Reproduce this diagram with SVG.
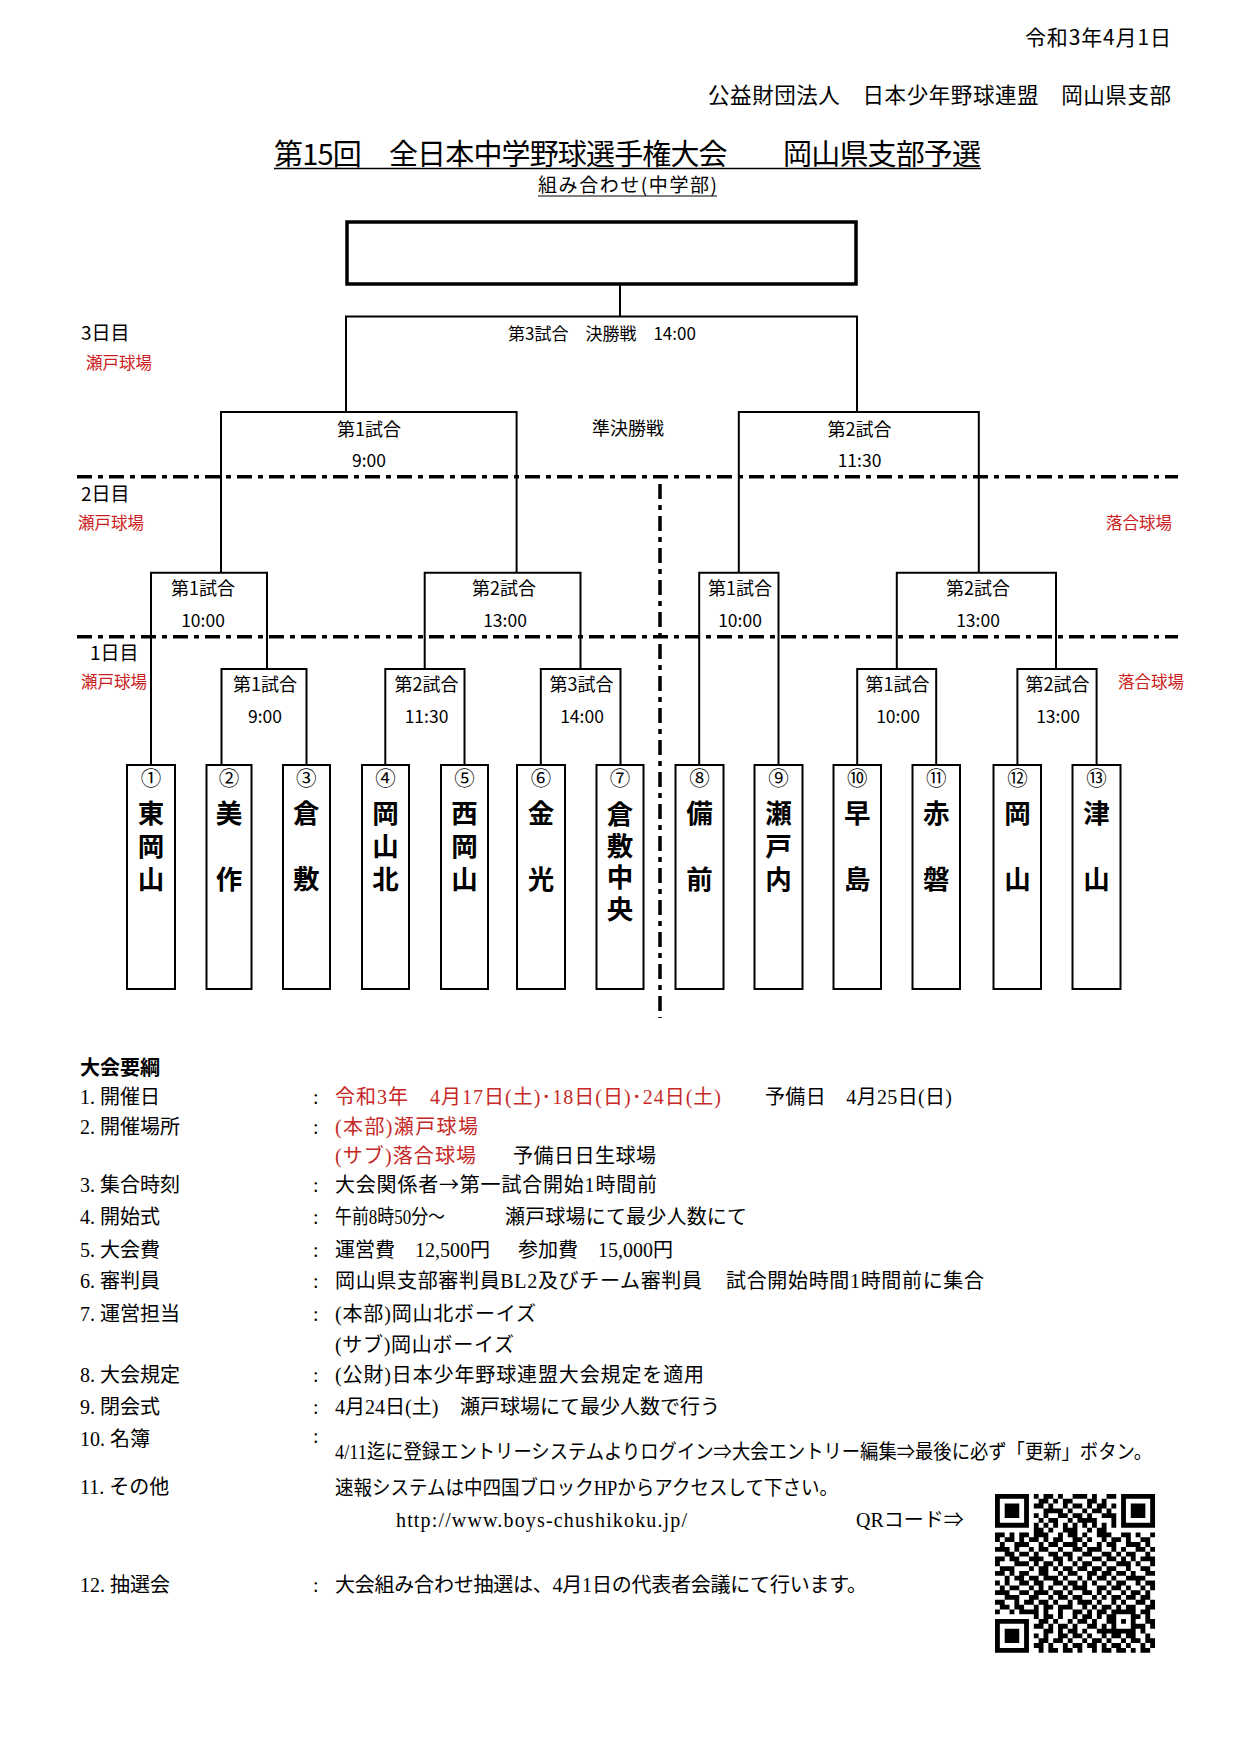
<svg xmlns="http://www.w3.org/2000/svg" width="1240" height="1754" viewBox="0 0 1240 1754">
<style>
text{font-family:"Noto Sans CJK JP","Noto Sans CJK SC",sans-serif;fill:#000}
.m{font-family:"Liberation Serif","Noto Sans CJK JP",serif;font-size:20px}
.cjk{font-family:"Noto Sans CJK JP",sans-serif}
.red{fill:#c62828}
.lbl{font-size:18px;text-anchor:middle}
.tm{font-size:17.5px;text-anchor:middle}
.day{font-size:19px}
.fld{font-size:16.5px;fill:#cc2020}
.br{fill:none;stroke:#000;stroke-width:2}
.dd{fill:none;stroke:#000;stroke-width:3.5;stroke-dasharray:15 6 5 6}
.team rect{fill:none;stroke:#000;stroke-width:2}
.num{font-size:20.5px;text-anchor:middle}
.tn{font-size:26.5px;font-weight:bold;text-anchor:middle}
</style>
<rect width="1240" height="1754" fill="#fff"/>

<!-- header -->
<g id="header">
<text x="1171" y="45" font-size="21" text-anchor="end" textLength="146" lengthAdjust="spacing">令和3年4月1日</text>
<text x="1171" y="103" font-size="21.5" text-anchor="end" textLength="463" lengthAdjust="spacing">公益財団法人　日本少年野球連盟　岡山県支部</text>
<text x="627.5" y="165" font-size="29" text-anchor="middle" textLength="707" lengthAdjust="spacing">第15回　全日本中学野球選手権大会　　岡山県支部予選</text>
<line x1="274" y1="168.5" x2="981" y2="168.5" stroke="#000" stroke-width="1.5"/>
<text x="627.5" y="192" font-size="19" text-anchor="middle" textLength="179" lengthAdjust="spacing">組み合わせ(中学部)</text>
<line x1="538" y1="196" x2="717" y2="196" stroke="#000" stroke-width="1"/>
</g>

<!-- day / field labels -->
<g id="day-labels">
<text class="day" x="81" y="340">3日目</text>
<text class="fld" x="86" y="369">瀬戸球場</text>
<text class="day" x="81" y="500.5">2日目</text>
<text class="fld" x="78" y="528.5">瀬戸球場</text>
<text class="fld" x="1106" y="528.5">落合球場</text>
<text class="day" x="90" y="659.5">1日目</text>
<text class="fld" x="81" y="687.5">瀬戸球場</text>
<text class="fld" x="1118" y="687.5">落合球場</text>
</g>

<!-- separators -->
<g id="separators">
<line class="dd" x1="77" y1="476.7" x2="1178" y2="476.7"/>
<line class="dd" x1="77" y1="636.7" x2="1178" y2="636.7"/>
<line class="dd" x1="660" y1="484" x2="660" y2="1018" stroke-width="3" stroke-dasharray="14 6 5 7"/>
</g>

<!-- winner box -->
<g id="winner">
<rect x="347" y="222" width="509" height="62" fill="none" stroke="#000" stroke-width="3.5"/>
</g>

<!-- connectors -->
<g id="connectors" class="br">
<path d="M620 284V316.5"/>
<path d="M346 412V316.5H857V412"/>
<path d="M221 572.7V412H516.6V572.7"/>
<path d="M738.8 572.7V412H978.8V572.7"/>
<path d="M151 765V572.7H267V669"/>
<path d="M424.7 669V572.7H580.5V669"/>
<path d="M221.5 765V669H306.5V765"/>
<path d="M385.3 765V669H464.5V765"/>
<path d="M540.8 765V669H620.5V765"/>
<path d="M699.2 765V572.7H778.5V765"/>
<path d="M896.8 669V572.7H1056V669"/>
<path d="M857.2 765V669H936.2V765"/>
<path d="M1017.4 765V669H1096.6V765"/>
</g>

<!-- match labels -->
<g id="m-final"><text x="508" y="339.5" font-size="17">第3試合　決勝戦　14:00</text></g>
<g id="m-semi"><text x="592" y="434.5" font-size="18">準決勝戦</text></g>
<g id="m-semi1"><text class="lbl" x="369" y="435.5">第1試合</text><text class="tm" x="369" y="466.5">9:00</text></g>
<g id="m-semi2"><text class="lbl" x="859.5" y="435.5">第2試合</text><text class="tm" x="859.5" y="466.5">11:30</text></g>
<g id="m-d2l1"><text class="lbl" x="203" y="594.5">第1試合</text><text class="tm" x="203" y="626.5">10:00</text></g>
<g id="m-d2l2"><text class="lbl" x="504" y="594.5">第2試合</text><text class="tm" x="505" y="626.5">13:00</text></g>
<g id="m-d2r1"><text class="lbl" x="740" y="594.5">第1試合</text><text class="tm" x="740" y="626.5">10:00</text></g>
<g id="m-d2r2"><text class="lbl" x="978" y="594.5">第2試合</text><text class="tm" x="978" y="626.5">13:00</text></g>
<g id="m-d1l1"><text class="lbl" x="265" y="690.5">第1試合</text><text class="tm" x="265" y="722.5">9:00</text></g>
<g id="m-d1l2"><text class="lbl" x="426.5" y="690.5">第2試合</text><text class="tm" x="426.5" y="722.5">11:30</text></g>
<g id="m-d1l3"><text class="lbl" x="581.5" y="690.5">第3試合</text><text class="tm" x="582" y="722.5">14:00</text></g>
<g id="m-d1r1"><text class="lbl" x="897.5" y="690.5">第1試合</text><text class="tm" x="898" y="722.5">10:00</text></g>
<g id="m-d1r2"><text class="lbl" x="1057.5" y="690.5">第2試合</text><text class="tm" x="1058" y="722.5">13:00</text></g>

<!-- teams -->
<g id="team1" class="team"><rect x="127" y="765" width="48" height="224"/><text class="num" x="151" y="786">①</text><text class="tn"><tspan x="151" y="823">東</tspan><tspan x="151" y="856">岡</tspan><tspan x="151" y="889">山</tspan></text></g>
<g id="team2" class="team"><rect x="206.5" y="765" width="45" height="224"/><text class="num" x="229" y="786">②</text><text class="tn"><tspan x="229" y="823">美</tspan><tspan x="229" y="889">作</tspan></text></g>
<g id="team3" class="team"><rect x="283" y="765" width="47" height="224"/><text class="num" x="306.3" y="786">③</text><text class="tn"><tspan x="306.3" y="823">倉</tspan><tspan x="306.3" y="889">敷</tspan></text></g>
<g id="team4" class="team"><rect x="362" y="765" width="47" height="224"/><text class="num" x="385.5" y="786">④</text><text class="tn"><tspan x="385.5" y="823">岡</tspan><tspan x="385.5" y="856">山</tspan><tspan x="385.5" y="889">北</tspan></text></g>
<g id="team5" class="team"><rect x="441" y="765" width="47" height="224"/><text class="num" x="464.4" y="786">⑤</text><text class="tn"><tspan x="464.4" y="823">西</tspan><tspan x="464.4" y="856">岡</tspan><tspan x="464.4" y="889">山</tspan></text></g>
<g id="team6" class="team"><rect x="517" y="765" width="48" height="224"/><text class="num" x="541" y="786">⑥</text><text class="tn"><tspan x="541" y="823">金</tspan><tspan x="541" y="889">光</tspan></text></g>
<g id="team7" class="team"><rect x="596.5" y="765" width="47" height="224"/><text class="num" x="620" y="786">⑦</text><text class="tn"><tspan x="620" y="824">倉</tspan><tspan x="620" y="855.5">敷</tspan><tspan x="620" y="887">中</tspan><tspan x="620" y="918.5">央</tspan></text></g>
<g id="team8" class="team"><rect x="675.5" y="765" width="48" height="224"/><text class="num" x="699.4" y="786">⑧</text><text class="tn"><tspan x="699.4" y="823">備</tspan><tspan x="699.4" y="889">前</tspan></text></g>
<g id="team9" class="team"><rect x="754.5" y="765" width="48" height="224"/><text class="num" x="778.6" y="786">⑨</text><text class="tn"><tspan x="778.6" y="823">瀬</tspan><tspan x="778.6" y="856">戸</tspan><tspan x="778.6" y="889">内</tspan></text></g>
<g id="team10" class="team"><rect x="833.5" y="765" width="47.5" height="224"/><text class="num" x="857.2" y="786">⑩</text><text class="tn"><tspan x="857.2" y="823">早</tspan><tspan x="857.2" y="889">島</tspan></text></g>
<g id="team11" class="team"><rect x="912.5" y="765" width="47.5" height="224"/><text class="num" x="936.2" y="786">⑪</text><text class="tn"><tspan x="936.2" y="823">赤</tspan><tspan x="936.2" y="889">磐</tspan></text></g>
<g id="team12" class="team"><rect x="993.5" y="765" width="47.5" height="224"/><text class="num" x="1017.4" y="786">⑫</text><text class="tn"><tspan x="1017.4" y="823">岡</tspan><tspan x="1017.4" y="889">山</tspan></text></g>
<g id="team13" class="team"><rect x="1072.5" y="765" width="48" height="224"/><text class="num" x="1096.6" y="786">⑬</text><text class="tn"><tspan x="1096.6" y="823">津</tspan><tspan x="1096.6" y="889">山</tspan></text></g>

<!-- outline -->
<g id="outline">
<text x="80" y="1074.5" font-size="20" font-weight="bold">大会要綱</text>
<text class="m" x="80" y="1104">1. 開催日</text><text class="m" x="313" y="1104">:</text>
<text class="m red" x="335" y="1104" textLength="386" lengthAdjust="spacing">令和3年　4月17日(土)･18日(日)･24日(土)</text>
<text class="m" x="765" y="1104" textLength="187" lengthAdjust="spacing">予備日　4月25日(日)</text>
<text class="m" x="80" y="1134">2. 開催場所</text><text class="m" x="313" y="1134">:</text>
<text class="m red" x="335" y="1134" textLength="143" lengthAdjust="spacing">(本部)瀬戸球場</text>
<text class="m red" x="335" y="1162.5" textLength="141" lengthAdjust="spacing">(サブ)落合球場</text>
<text class="m" x="513" y="1162.5" textLength="143" lengthAdjust="spacing">予備日日生球場</text>
<text class="m" x="80" y="1192">3. 集合時刻</text><text class="m" x="313" y="1192">:</text>
<text class="m" x="335" y="1192" textLength="322" lengthAdjust="spacing">大会関係者<tspan class="cjk">→</tspan>第一試合開始1時間前</text>
<text class="m" x="80" y="1224">4. 開始式</text><text class="m" x="313" y="1224">:</text>
<text class="m" x="335" y="1224" textLength="110" lengthAdjust="spacingAndGlyphs">午前8時50分～</text><text class="m" x="505" y="1224" textLength="242" lengthAdjust="spacing">瀬戸球場にて最少人数にて</text>
<text class="m" x="80" y="1256.5">5. 大会費</text><text class="m" x="313" y="1256.5">:</text>
<text class="m" x="335" y="1256.5">運営費　12,500円</text><text class="m" x="518" y="1256.5">参加費　15,000円</text>
<text class="m" x="80" y="1288">6. 審判員</text><text class="m" x="313" y="1288">:</text>
<text class="m" x="335" y="1288" textLength="367" lengthAdjust="spacing">岡山県支部審判員BL2及びチーム審判員</text><text class="m" x="726" y="1288" textLength="258" lengthAdjust="spacing">試合開始時間1時間前に集合</text>
<text class="m" x="80" y="1320.5">7. 運営担当</text><text class="m" x="313" y="1320.5">:</text>
<text class="m" x="335" y="1320.5" textLength="201" lengthAdjust="spacing">(本部)岡山北ボーイズ</text>
<text class="m" x="335" y="1352" textLength="179" lengthAdjust="spacing">(サブ)岡山ボーイズ</text>
<text class="m" x="80" y="1382">8. 大会規定</text><text class="m" x="313" y="1382">:</text>
<text class="m" x="335" y="1382" textLength="369" lengthAdjust="spacing">(公財)日本少年野球連盟大会規定を適用</text>
<text class="m" x="80" y="1414">9. 閉会式</text><text class="m" x="313" y="1414">:</text>
<text class="m" x="335" y="1414">4月24日(土)</text><text class="m" x="460" y="1414">瀬戸球場にて最少人数で行う</text>
<text class="m" x="80" y="1445.5">10. 名簿</text><text class="m" x="313" y="1443">:</text>
<text class="m" x="335" y="1458.5" textLength="817" lengthAdjust="spacingAndGlyphs">4/11迄に登録エントリーシステムよりログイン⇒大会エントリー編集⇒最後に必ず「更新」ボタン。</text>
<text class="m" x="80" y="1494">11. その他</text>
<text class="m" x="335" y="1495" textLength="503" lengthAdjust="spacingAndGlyphs">速報システムは中四国ブロックHPからアクセスして下さい。</text>
<text class="m" x="396" y="1526.5" textLength="291" lengthAdjust="spacing">http://www.boys-chushikoku.jp/</text>
<text class="m" x="856" y="1526.5">QRコード⇒</text>
<text class="m" x="80" y="1592">12. 抽選会</text><text class="m" x="313" y="1592">:</text>
<text class="m" x="335" y="1592" textLength="532" lengthAdjust="spacing">大会組み合わせ抽選は、4月1日の代表者会議にて行います。</text>
</g>

<!-- QR code -->
<g id="qr" transform="translate(995 1494) scale(4.85 4.81)">
<path fill="none" stroke="#000" stroke-width="1" d="M0 .5h7M8 .5h1M10 .5h2M13 .5h1M16 .5h3M20 .5h1M23 .5h2M26 .5h7M0 1.5h1M6 1.5h1M9 1.5h2M12 1.5h1M14 1.5h2M19 1.5h2M22 1.5h1M26 1.5h1M32 1.5h1M0 2.5h1M2 2.5h3M6 2.5h1M8 2.5h2M11 2.5h1M14 2.5h1M16 2.5h2M19 2.5h1M21 2.5h2M24 2.5h1M26 2.5h1M28 2.5h3M32 2.5h1M0 3.5h1M2 3.5h3M6 3.5h1M10 3.5h4M15 3.5h1M18 3.5h1M20 3.5h2M23 3.5h1M26 3.5h1M28 3.5h3M32 3.5h1M0 4.5h1M2 4.5h3M6 4.5h1M8 4.5h1M10 4.5h1M13 4.5h2M16 4.5h2M19 4.5h1M22 4.5h3M26 4.5h1M28 4.5h3M32 4.5h1M0 5.5h1M6 5.5h1M9 5.5h1M11 5.5h2M15 5.5h1M17 5.5h4M24 5.5h1M26 5.5h1M32 5.5h1M0 6.5h7M8 6.5h1M10 6.5h1M12 6.5h1M14 6.5h1M16 6.5h1M18 6.5h1M20 6.5h1M22 6.5h1M24 6.5h1M26 6.5h7M8 7.5h2M11 7.5h1M14 7.5h3M19 7.5h1M21 7.5h2M0 8.5h2M3 8.5h1M5 8.5h2M8 8.5h3M13 8.5h1M15 8.5h2M18 8.5h1M21 8.5h3M26 8.5h2M29 8.5h1M32 8.5h1M0 9.5h1M2 9.5h2M5 9.5h1M7 9.5h2M10 9.5h1M12 9.5h2M16 9.5h2M19 9.5h1M22 9.5h1M24 9.5h2M27 9.5h1M30 9.5h2M1 10.5h1M4 10.5h3M9 10.5h1M11 10.5h2M14 10.5h3M18 10.5h1M21 10.5h1M23 10.5h2M27 10.5h3M31 10.5h1M0 11.5h3M4 11.5h1M7 11.5h1M9 11.5h2M13 11.5h1M16 11.5h2M19 11.5h3M24 11.5h1M26 11.5h1M29 11.5h2M32 11.5h1M2 12.5h2M5 12.5h2M8 12.5h1M11 12.5h2M14 12.5h2M18 12.5h2M22 12.5h2M25 12.5h1M27 12.5h2M31 12.5h1M0 13.5h2M3 13.5h2M7 13.5h3M12 13.5h2M15 13.5h1M17 13.5h1M20 13.5h2M23 13.5h2M26 13.5h1M28 13.5h1M30 13.5h3M0 14.5h1M4 14.5h3M8 14.5h1M10 14.5h2M13 14.5h1M16 14.5h1M18 14.5h2M22 14.5h1M25 14.5h3M29 14.5h1M32 14.5h1M1 15.5h3M7 15.5h1M9 15.5h2M12 15.5h1M14 15.5h2M17 15.5h2M20 15.5h2M23 15.5h2M27 15.5h1M30 15.5h2M0 16.5h2M3 16.5h1M5 16.5h2M9 16.5h2M13 16.5h1M15 16.5h2M19 16.5h2M22 16.5h2M25 16.5h2M28 16.5h1M31 16.5h2M2 17.5h1M4 17.5h2M7 17.5h2M10 17.5h3M14 17.5h1M17 17.5h1M19 17.5h1M21 17.5h2M24 17.5h1M27 17.5h4M0 18.5h1M2 18.5h1M5 18.5h2M8 18.5h2M12 18.5h2M15 18.5h2M18 18.5h1M20 18.5h1M23 18.5h1M25 18.5h2M29 18.5h1M31 18.5h2M1 19.5h1M3 19.5h2M7 19.5h1M9 19.5h1M11 19.5h1M14 19.5h1M16 19.5h3M21 19.5h2M24 19.5h2M27 19.5h1M30 19.5h1M32 19.5h1M0 20.5h3M5 20.5h2M8 20.5h3M12 20.5h2M15 20.5h1M18 20.5h2M21 20.5h1M23 20.5h1M26 20.5h1M28 20.5h2M31 20.5h1M2 21.5h3M7 21.5h2M11 21.5h1M13 21.5h2M16 21.5h2M20 21.5h1M22 21.5h1M24 21.5h2M27 21.5h2M30 21.5h2M0 22.5h2M4 22.5h1M6 22.5h2M9 22.5h2M12 22.5h1M15 22.5h1M17 22.5h3M21 22.5h1M24 22.5h1M26 22.5h1M29 22.5h2M32 22.5h1M1 23.5h2M4 23.5h2M8 23.5h1M10 23.5h2M13 23.5h3M18 23.5h1M20 23.5h1M22 23.5h2M25 23.5h1M27 23.5h2M31 23.5h2M0 24.5h1M3 24.5h1M5 24.5h4M10 24.5h1M13 24.5h1M16 24.5h2M19 24.5h1M21 24.5h2M24 24.5h5M30 24.5h2M8 25.5h1M10 25.5h2M13 25.5h1M16 25.5h1M18 25.5h2M21 25.5h1M23 25.5h2M28 25.5h2M31 25.5h1M0 26.5h7M9 26.5h2M12 26.5h1M15 26.5h1M17 26.5h2M20 26.5h1M23 26.5h2M26 26.5h1M28 26.5h1M31 26.5h2M0 27.5h1M6 27.5h1M8 27.5h2M11 27.5h1M13 27.5h2M16 27.5h1M19 27.5h2M22 27.5h1M24 27.5h1M28 27.5h3M32 27.5h1M0 28.5h1M2 28.5h3M6 28.5h1M10 28.5h2M13 28.5h1M15 28.5h2M18 28.5h1M21 28.5h8M30 28.5h1M0 29.5h1M2 29.5h3M6 29.5h1M8 29.5h1M10 29.5h1M13 29.5h2M16 29.5h2M19 29.5h1M22 29.5h1M24 29.5h2M27 29.5h2M31 29.5h1M0 30.5h1M2 30.5h3M6 30.5h1M9 30.5h2M12 30.5h2M15 30.5h1M18 30.5h1M20 30.5h2M23 30.5h1M26 30.5h1M28 30.5h2M31 30.5h2M0 31.5h1M6 31.5h1M8 31.5h2M11 31.5h1M14 31.5h1M16 31.5h2M19 31.5h2M22 31.5h1M24 31.5h2M27 31.5h1M30 31.5h1M32 31.5h1M0 32.5h7M9 32.5h1M11 32.5h2M14 32.5h2M17 32.5h1M20 32.5h1M22 32.5h2M25 32.5h2M28 32.5h1M30 32.5h2"/>
</g>
</svg>
